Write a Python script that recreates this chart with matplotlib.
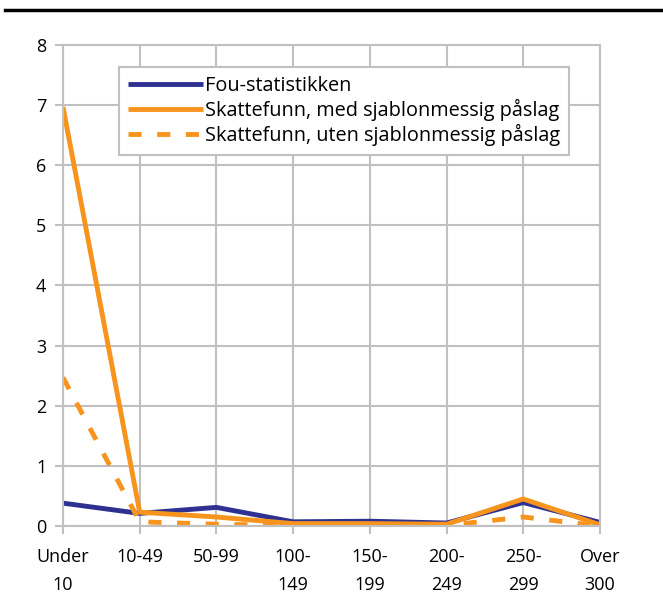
import matplotlib
matplotlib.use("Agg")
import matplotlib.pyplot as plt
from matplotlib.lines import Line2D
import numpy as np

plt.rcParams['font.family'] = ['Open Sans', 'DejaVu Sans']

categories = ["Under\n10", "10-49", "50-99", "100-\n149", "150-\n199", "200-\n249", "250-\n299", "Over\n300"]
fou = [0.38, 0.21, 0.31, 0.07, 0.08, 0.05, 0.39, 0.06]
med = [6.97, 0.23, 0.15, 0.04, 0.04, 0.03, 0.45, 0.02]
uten = [2.47, 0.07, 0.03, 0.01, 0.01, 0.01, 0.15, 0.0]
labels = ["Fou-statistikken", "Skattefunn, med sjablonmessig påslag",
          "Skattefunn, uten sjablonmessig påslag"]

navy = "#2e3192"
orange = "#f7941d"
grid_c = "#c0c0c0"

fig = plt.figure(figsize=(6.63, 6.12), dpi=100)
ax = fig.add_axes([0.095, 0.1405, 0.81, 0.786])

x = np.arange(len(categories))
ax.plot(x, fou, color=navy, lw=3.5, label=labels[0], solid_capstyle="butt")
ax.plot(x, med, color=orange, lw=3.5, label=labels[1], solid_capstyle="butt")
ax.plot(x, uten, color=orange, lw=3.5, ls=(0, (2.7, 3.2)), label=labels[2])

ax.set_xlim(0, len(categories) - 1)
ax.set_ylim(0, 8)
ax.set_yticks(range(0, 9))
ax.set_xticks(x)
ax.set_xticklabels(categories, fontsize=13, linespacing=1.7)
ax.tick_params(axis="y", labelsize=13, color=grid_c, width=1.5, length=6, pad=6)
ax.tick_params(axis="x", color=grid_c, width=1.5, length=6, pad=10)
ax.grid(True, color=grid_c, lw=1.5)
ax.set_axisbelow(True)
for s in ax.spines.values():
    s.set_color(grid_c)
    s.set_linewidth(1.5)

leg = ax.legend(loc="upper left", bbox_to_anchor=(0.104, 0.954), fontsize=14.3,
                handlelength=3.8, handletextpad=0.1, borderpad=0.45,
                labelspacing=0.15, borderaxespad=0, fancybox=False, framealpha=1)
leg.get_frame().set_edgecolor(grid_c)
leg.get_frame().set_linewidth(1.5)

fig.add_artist(Line2D([5 / 663, 1], [1 - 10 / 612, 1 - 10 / 612],
                      transform=fig.transFigure, color="black", lw=2.5))

fig.savefig("out.png", dpi=100)
